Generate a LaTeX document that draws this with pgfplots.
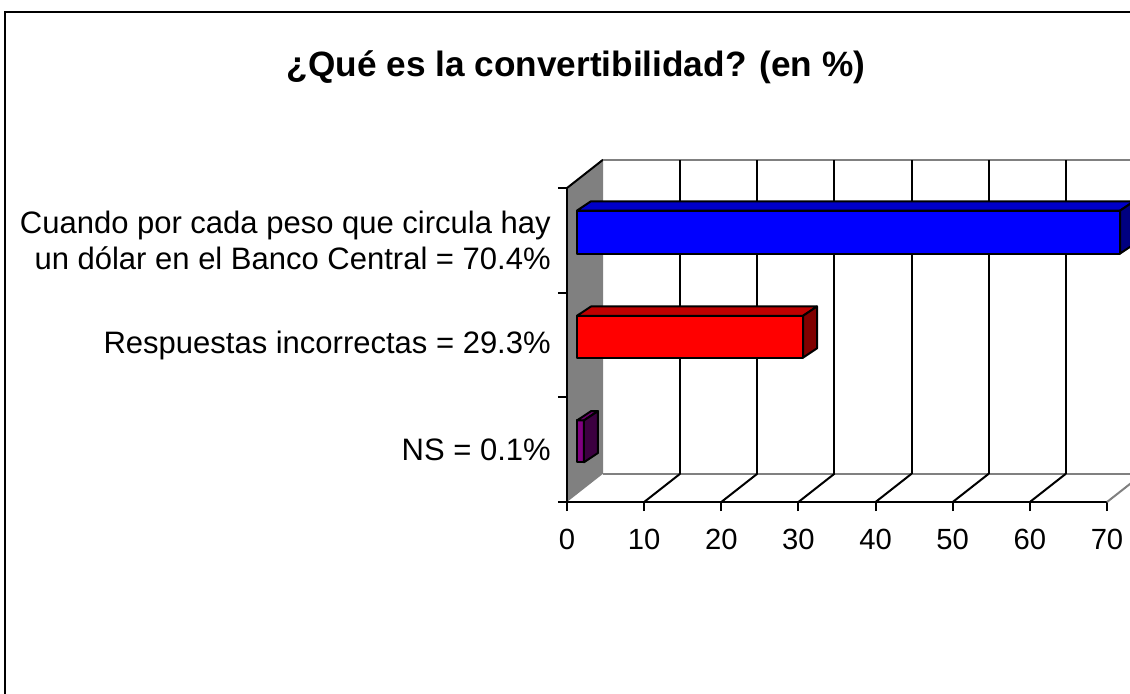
\documentclass[border=0pt]{standalone}
\usepackage{fontspec}
\setmainfont{Liberation Sans}
\usepackage{pgfplots}
\pgfplotsset{compat=1.18}
\definecolor{wallgray}{RGB}{128,128,128}
\definecolor{bluetop}{RGB}{0,0,200}
\definecolor{blueside}{RGB}{0,0,128}
\definecolor{redtop}{RGB}{192,0,0}
\definecolor{redside}{RGB}{128,0,0}
\definecolor{purfront}{RGB}{128,0,128}
\definecolor{purtop}{RGB}{102,0,102}
\definecolor{purside}{RGB}{60,0,64}
\begin{document}
\begin{tikzpicture}
\useasboundingbox (0,0) rectangle (565pt,-346.5pt);
\fill[white] (0,0) rectangle (565pt,-346.5pt);
\clip (0,0) rectangle (565pt,-346.5pt);
\draw[line width=1pt] (2.5pt,-360pt) -- (2.5pt,-6pt) -- (575pt,-6pt);
\node[font=\bfseries\fontsize{17.6}{20}\selectfont] at (288pt,-33.5pt) {¿Qué es la convertibilidad? (en \%)};
\begin{axis}[
  at={(283.5pt,-251pt)}, anchor=south west,
  scale only axis, width=270pt, height=157pt,
  xmin=0, xmax=70, ymin=0, ymax=3,
  clip=false,
  axis x line*=bottom, axis y line*=left,
  axis line style={line width=1pt, black},
  xtick={0,10,...,70},
  tick align=outside,
  major tick length=4.5pt,
  tick style={line width=1pt, black},
  ytick={0,1,2,3}, yticklabels={},
  extra y ticks={0.5,1.5,2.5},
  extra y tick labels={{NS = 0.1\%},{Respuestas incorrectas = 29.3\%},{Cuando por cada peso que circula hay\\un dólar en el Banco Central = 70.4\%}},
  extra y tick style={major tick length=0pt, tick style={draw=none}, yticklabel style={align=right, xshift=-4.6pt, font=\fontsize{15.5}{18}\selectfont}},
  tick label style={font=\fontsize{14.6}{17}\selectfont},
  xticklabel style={yshift=-5.5pt},
  /pgf/number format/assume math mode=true,
]
% side wall
\fill[wallgray] (axis cs:0,0) -- (axis cs:4.667,0.27) -- (axis cs:4.667,3.27) -- (axis cs:0,3) -- cycle;
\draw[black, line width=1pt] (axis cs:0,3) -- (axis cs:4.667,3.27);
% back wall edges
\draw[wallgray, line width=1pt] (axis cs:4.667,3.27) -- (axis cs:80,3.27);
\draw[wallgray, line width=1pt] (axis cs:4.667,0.27) -- (axis cs:80,0.27);
\draw[wallgray, line width=1pt] (axis cs:70,0) -- (axis cs:74.667,0.27);
\pgfplotsinvokeforeach{1,...,6}{
  \draw[black, line width=1pt] (axis cs:{10*#1+4.667},0.27) -- (axis cs:{10*#1+4.667},3.27);
  \draw[black, line width=1pt] (axis cs:{10*#1},0) -- (axis cs:{10*#1+4.667},0.27);
}
\draw[black, line width=1pt] (axis cs:0,0) -- (axis cs:0,3);
% blue bar 70.4
\addplot[fill=blue, draw=black, line width=1pt, line join=round, xshift=5pt, yshift=4.15pt] coordinates {(0,2.295) (70.4,2.295) (70.4,2.705) (0,2.705)} -- cycle;
\addplot[fill=bluetop, draw=black, line width=1pt, line join=round, xshift=5pt, yshift=4.15pt] coordinates {(0,2.705) (70.4,2.705) (72.215,2.794) (1.815,2.794)} -- cycle;
\addplot[fill=blueside, draw=black, line width=1pt, line join=round, xshift=5pt, yshift=4.15pt] coordinates {(70.4,2.295) (72.215,2.384) (72.215,2.794) (70.4,2.705)} -- cycle;
% red bar 29.3
\addplot[fill=red, draw=black, line width=1pt, line join=round, xshift=5pt, yshift=4.15pt] coordinates {(0,1.3) (29.3,1.3) (29.3,1.7) (0,1.7)} -- cycle;
\addplot[fill=redtop, draw=black, line width=1pt, line join=round, xshift=5pt, yshift=4.15pt] coordinates {(0,1.7) (29.3,1.7) (31.115,1.789) (1.815,1.789)} -- cycle;
\addplot[fill=redside, draw=black, line width=1pt, line join=round, xshift=5pt, yshift=4.15pt] coordinates {(29.3,1.3) (31.115,1.389) (31.115,1.789) (29.3,1.7)} -- cycle;
% purple bar (NS)
\addplot[fill=purfront, draw=black, line width=1pt, line join=round, xshift=5pt, yshift=4.15pt] coordinates {(0,0.3) (0.9,0.3) (0.9,0.7) (0,0.7)} -- cycle;
\addplot[fill=purtop, draw=black, line width=1pt, line join=round, xshift=5pt, yshift=4.15pt] coordinates {(0,0.7) (0.9,0.7) (2.715,0.789) (1.815,0.789)} -- cycle;
\addplot[fill=purside, draw=black, line width=1pt, line join=round, xshift=5pt, yshift=4.15pt] coordinates {(0.9,0.3) (2.715,0.389) (2.715,0.789) (0.9,0.7)} -- cycle;
\end{axis}
\end{tikzpicture}
\end{document}
